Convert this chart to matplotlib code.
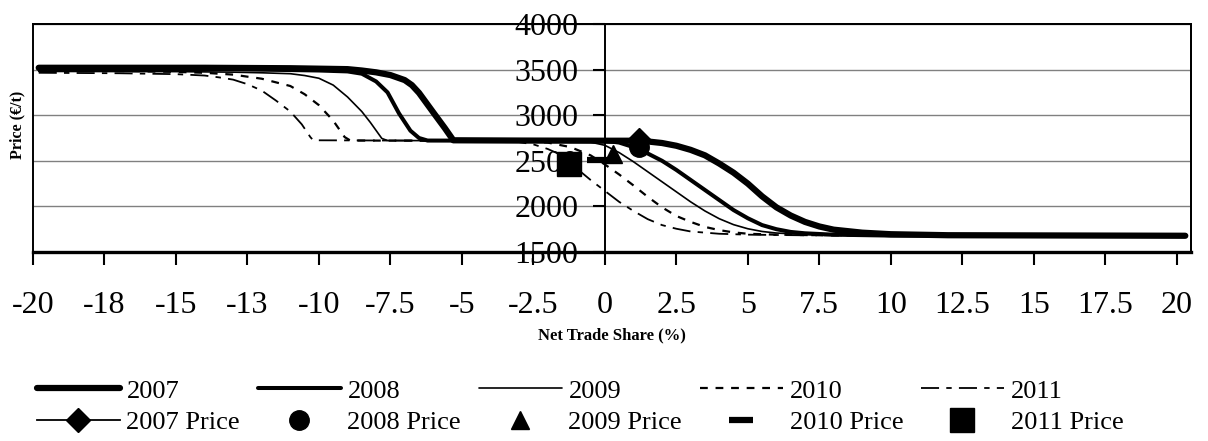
import matplotlib
matplotlib.use('Agg')
import matplotlib.pyplot as plt
from matplotlib.patches import Rectangle

plt.rcParams['font.family'] = ['Liberation Serif', 'DejaVu Serif']

# curves: net trade share (%) -> price (EUR/t)
x_2007 = [-19.8, -14, -11, -10, -9, -8.5, -8, -7.5, -7, -6.75, -6.5, -6, -5.6, -5.3, -3, 0, 1, 1.5, 2, 2.5, 3,
          3.5, 4, 4.5, 5, 5.5, 6, 6.5, 7, 7.5, 8, 9, 10, 12, 20.3]
y_2007 = [3520, 3520, 3515, 3510, 3505, 3490, 3470, 3440, 3385, 3330, 3245, 3030, 2860, 2725, 2722, 2720,
          2720, 2712, 2695, 2665, 2620, 2560, 2470, 2370, 2250, 2110, 1990, 1900, 1830, 1780, 1745, 1712,
          1695, 1684, 1678]

x_2008 = [-19.8, -13, -11, -10, -9, -8.5, -8, -7.6, -7.2, -6.8, -6.5, -6.2, -3, 0, 0.5, 1, 1.5, 2, 2.5,
          3, 3.5, 4, 4.5, 5, 5.5, 6, 6.5, 7, 8, 10, 20.3]
y_2008 = [3510, 3505, 3495, 3490, 3480, 3455, 3370, 3250, 3020, 2830, 2750, 2722, 2720, 2720, 2700, 2650,
          2580, 2500, 2400, 2290, 2180, 2070, 1960, 1870, 1795, 1750, 1720, 1705, 1690, 1680, 1676]

x_2009 = [-19.8, -15, -13, -12, -11, -10.5, -10, -9.5, -9, -8.5, -8.2, -7.8, -7.6, -3, -1, -0.5, 0, 0.5,
          1, 1.5, 2, 2.5, 3, 3.5, 4, 4.5, 5, 5.5, 6, 7, 8, 10, 20.3]
y_2009 = [3480, 3478, 3472, 3465, 3455, 3435, 3405, 3330, 3200, 3040, 2920, 2745, 2722, 2720, 2720, 2705,
          2670, 2590, 2490, 2380, 2270, 2160, 2050, 1950, 1865, 1800, 1755, 1725, 1708, 1692, 1685, 1680,
          1676]

x_2010 = [-19.8, -17, -15, -14, -13, -12, -11, -10.5, -10, -9.5, -9.1, -8.9, -5, -3, -2, -1.2, -0.5, 0,
          0.5, 1, 1.5, 2, 2.5, 3, 3.5, 4, 4.5, 5, 6, 8, 20.3]
y_2010 = [3490, 3485, 3475, 3465, 3445, 3400, 3320, 3230, 3110, 2940, 2760, 2722, 2720, 2720, 2700, 2650,
          2560, 2460, 2350, 2230, 2105, 1990, 1895, 1830, 1775, 1740, 1715, 1700, 1690, 1682, 1676]

x_2011 = [-19.8, -17, -15, -14, -13.5, -13, -12.5, -12, -11.5, -11, -10.6, -10.3, -10.2, -5, -3.5, -3,
          -2.5, -2, -1.5, -1, -0.5, 0, 0.5, 1, 1.5, 2, 2.5, 3, 4, 5, 7, 20.3]
y_2011 = [3465, 3460, 3450, 3435, 3415, 3390, 3340, 3270, 3160, 3040, 2900, 2760, 2725, 2720, 2720, 2705,
          2680, 2630, 2560, 2420, 2290, 2170, 2050, 1950, 1860, 1795, 1755, 1725, 1700, 1690, 1683, 1677]

# observed prices (single points)
price_years = ['2007', '2008', '2009', '2010', '2011']
price_x = [1.2, 1.2, 0.3, -0.2, -1.25]
price_y = [2730, 2655, 2575, 2510, 2460]

x_tick_vals = [-20, -17.5, -15, -12.5, -10, -7.5, -5, -2.5, 0, 2.5, 5, 7.5, 10, 12.5, 15, 17.5, 20]
x_tick_labels = ['-20', '-18', '-15', '-13', '-10', '-7.5', '-5', '-2.5', '0', '2.5', '5', '7.5', '10',
                 '12.5', '15', '17.5', '20']
y_tick_vals = [1500, 2000, 2500, 3000, 3500, 4000]

W, H = 1208, 441
fig = plt.figure(figsize=(W / 100, H / 100), dpi=100)
ax = fig.add_axes([33 / W, 1 - 252 / H, (1191 - 33) / W, 228 / H])

l11, = ax.plot(x_2011, y_2011, color='black', lw=1.3, linestyle=(0, (10, 4, 3, 4)), label='2011')
l10, = ax.plot(x_2010, y_2010, color='black', lw=1.6, linestyle=(0, (3.5, 3.5)), label='2010')
l09, = ax.plot(x_2009, y_2009, color='black', lw=1.2, label='2009', solid_capstyle='round')
l08, = ax.plot(x_2008, y_2008, color='black', lw=2.9, label='2008', solid_capstyle='round')
l07, = ax.plot(x_2007, y_2007, color='black', lw=4.5, label='2007', solid_capstyle='round')

p07, = ax.plot([price_x[0]], [price_y[0]], '-D', color='black', ms=12, lw=1.3, label='2007 Price', zorder=6)
p08, = ax.plot([price_x[1]], [price_y[1]], 'o', color='black', ms=14, label='2008 Price', zorder=6)
p09, = ax.plot([price_x[2]], [price_y[2]], '^', color='black', ms=13, label='2009 Price', zorder=6)
p10, = ax.plot([price_x[3]], [price_y[3]], '_', color='black', ms=17, mew=4.5, label='2010 Price', zorder=6)
p11, = ax.plot([price_x[4]], [price_y[4]], 's', color='black', ms=17, label='2011 Price', zorder=6)

ax.set_xlim(-20, 20.5)
ax.set_ylim(1500, 4000)
ax.set_xticks(x_tick_vals)
ax.set_xticklabels(x_tick_labels)
ax.set_yticks(y_tick_vals)
ax.yaxis.grid(True, color='#808080', lw=1)
ax.set_axisbelow(True)

ax.spines['left'].set_position(('data', 0))
ax.spines['left'].set_linewidth(1.4)
ax.spines['right'].set_linewidth(1.4)
ax.spines['top'].set_linewidth(1.4)
ax.spines['bottom'].set_linewidth(2.4)
ax.add_patch(Rectangle((0, 0), 1, 1, transform=ax.transAxes, fill=False, lw=1.4,
                       edgecolor='black', clip_on=False, zorder=3))

ax.tick_params(axis='x', direction='out', length=9, width=1.5, pad=19, labelsize=23)
ax.tick_params(axis='y', direction='out', length=9, width=1.5, pad=10, labelsize=23)

fig.text(612 / W, 1 - 335 / H, 'Net Trade Share (%)', ha='center', va='center',
         fontsize=12, fontweight='bold')
fig.text(17 / W, 1 - 125 / H, 'Price (€/t)', ha='center', va='center', rotation=90,
         fontsize=11.5, fontweight='bold')

handles = [l07, p07, l08, p08, l09, p09, l10, p10, l11, p11]
fig.legend(handles=handles, labels=[h.get_label() for h in handles], ncol=5,
           loc='center', bbox_to_anchor=(580 / W, 1 - 406.5 / H), frameon=False,
           fontsize=19, handlelength=3.15, handletextpad=0.25, columnspacing=0.67,
           labelspacing=0.3, borderpad=0, borderaxespad=0)

fig.savefig('out.png', dpi=100)
